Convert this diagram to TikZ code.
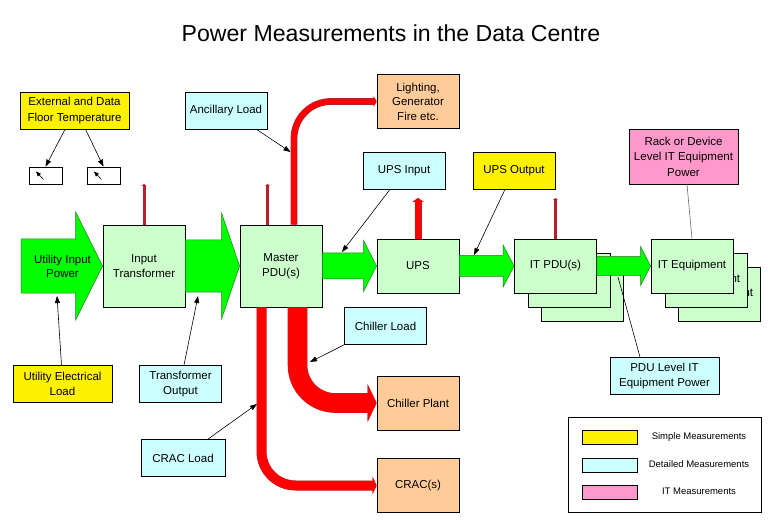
\documentclass[tikz,border=0pt]{standalone}
\usepackage{fontspec}
\setmainfont{Liberation Sans}
\usetikzlibrary{arrows.meta,calc}

\definecolor{stagegreen}{HTML}{CCFFCC}
\definecolor{flowgreen}{HTML}{00FF00}
\definecolor{flowedge}{HTML}{1F7F1F}
\definecolor{detailblue}{HTML}{CCFFFF}
\definecolor{plantorange}{HTML}{FFCC99}
\definecolor{itpink}{HTML}{FF99CC}
\definecolor{probered}{HTML}{B5202E}

\tikzset{
  basebox/.style={draw,line width=0.8pt,align=center,inner sep=0pt,font=\fontsize{11.5}{15.5}\selectfont},
  stagebox/.style={basebox,fill=stagegreen,minimum width=82pt,minimum height=54pt},
  tallbox/.style={stagebox,minimum height=82pt,font=\fontsize{11.5}{14.5}\selectfont},
  plantbox/.style={basebox,fill=plantorange,minimum width=82pt,minimum height=54pt,font=\fontsize{11.5}{14.5}\selectfont},
  simplebox/.style={basebox,fill=yellow,minimum width=82pt,minimum height=37pt},
  detailbox/.style={basebox,fill=detailblue,minimum width=82pt,minimum height=37pt},
  itbox/.style={basebox,fill=itpink,minimum width=109pt,minimum height=55pt},
  gauge/.style={basebox,fill=white,minimum width=33pt,minimum height=17pt},
  swatch/.style={basebox,minimum width=55pt,minimum height=14pt},
  keytext/.style={font=\fontsize{9.5}{11}\selectfont,inner sep=0pt},
  callout/.style={line width=0.6pt,-{Triangle[length=7pt,width=5pt]}},
  needle/.style={line width=0.6pt,-{Triangle[length=5pt,width=4pt]}},
  plainline/.style={line width=0.6pt},
  redpipe/.style={draw=red,rounded corners=#1},
  edged/.style={preaction={draw=probered,line width=#1}},
  probe/.style={draw=probered,line width=3pt,-{Triangle[length=2pt,width=5pt]}}
}

% straight block arrow: from, to, half body, half head, head length
\newcommand{\greenflow}[5]{
  \draw[fill=flowgreen,draw=flowedge,line width=0.5pt]
    ($(#1)+(0,-#3)$) -- ($(#2)+(-#5,-#3)$) -- ($(#2)+(-#5,-#4)$) -- (#2)
    -- ($(#2)+(-#5,#4)$) -- ($(#2)+(-#5,#3)$) -- ($(#1)+(0,#3)$) -- cycle;
}

\begin{document}
\begin{tikzpicture}[x=1pt,y=-1pt]
  \useasboundingbox (0,0) rectangle (768,521);

  \node[inner sep=0pt,font=\fontsize{23.1}{28}\selectfont] (title) at (391,33) {Power Measurements in the Data Centre};

  % main chain
  \coordinate (utiltail) at (21,266);
  \node[tallbox] (xfmr) at (144,266) {Input\\Transformer};
  \node[tallbox] (master) at (281,266) {Master\\PDU(s)};
  \node[stagebox] (ups) at (418,266) {UPS};
  \node[stagebox] (pdu3) at (582.5,294) {};
  \node[stagebox] (pdu2) at (569,280) {};
  \node[stagebox] (pdu) at (555.5,266) {IT PDU(s)};
  \node[stagebox] (equip3) at (719,294) {IT Equipment};
  \node[stagebox] (equip2) at (706,280) {IT Equipment};
  \node[stagebox] (equip) at (692,266) {IT Equipment};

  \greenflow{utiltail}{xfmr.west}{27}{54}{27}
  \greenflow{xfmr.east}{master.west}{26}{53}{18}
  \greenflow{master.east}{ups.west}{13}{25.5}{13}
  \greenflow{ups.east}{pdu.west}{10.5}{21}{11}
  \greenflow{pdu.east}{equip.west}{9.5}{19.5}{10}
  \node[inner sep=0pt,align=center,font=\fontsize{11.5}{14}\selectfont] (utilinput) at (62.5,266) {Utility Input\\Power};

  % loads
  \node[plantbox] (lighting) at (418,101.5) {Lighting,\\Generator\\Fire etc.};
  \node[plantbox] (chiller) at (418,403) {Chiller Plant};
  \node[plantbox] (crac) at (418,485.5) {CRAC(s)};

  \draw[redpipe=37pt,edged=6.8pt,line width=5pt,-{Triangle[length=3pt,width=10pt]}] ([xshift=13]master.north) |- (lighting.west);
  \draw[redpipe=38pt,edged=19.6pt,line width=19pt,-{Triangle[length=9pt,width=37pt]}] ([xshift=16.5]master.south) |- (chiller.west);
  \draw[redpipe=34pt,edged=10pt,line width=9.2pt,-{Triangle[length=4pt,width=17pt]}] ([xshift=-19.5]master.south) |- (crac.west);

  % probes
  \coordinate (xfmrtop) at (144,184);
  \coordinate (mastertop) at (267.5,184);
  \coordinate (upstop) at (418,198);
  \coordinate (pdutop) at (555.5,198);
  \draw[probe] (xfmr.north) -- (xfmrtop);
  \draw[probe] ([xshift=-13.5]master.north) -- (mastertop);
  \draw[draw=red,edged=7pt,line width=6pt,-{Triangle[length=4pt,width=11pt]}] (ups.north) -- (upstop);
  \draw[probe] (pdu.north) -- (pdutop);

  % measurement boxes
  \node[simplebox,minimum width=109pt] (temp) at (74.5,110.5) {External and Data\\Floor Temperature};
  \node[gauge] (gauge1) at (45.5,175.5) {};
  \node[gauge] (gauge2) at (103.5,175.5) {};
  \node[detailbox] (ancillary) at (226,110.5) {Ancillary Load};
  \node[detailbox] (upsin) at (404,170.5) {UPS Input};
  \node[simplebox] (upsout) at (514,170.5) {UPS Output};
  \node[itbox] (rack) at (683.5,156.5) {Rack or Device\\Level IT Equipment\\Power};
  \node[simplebox,minimum width=99pt] (utilload) at (62.5,384) {Utility Electrical\\Load};
  \node[detailbox] (xfmrout) at (180.5,384) {Transformer\\Output};
  \node[detailbox,minimum width=84pt] (cracload) at (183,458) {CRAC Load};
  \node[detailbox] (chillload) at (385.5,326) {Chiller Load};
  \node[detailbox,minimum width=109pt] (pdulevel) at (664.5,376) {PDU Level IT\\Equipment Power};

  % free ends of the callouts
  \coordinate (g1tail) at ($(gauge1.center)+(-2,4)$);
  \coordinate (g1tip) at ($(gauge1.center)+(-9.5,-4)$);
  \coordinate (g2tail) at ($(gauge2.center)+(-2,4)$);
  \coordinate (g2tip) at ($(gauge2.center)+(-9.5,-4)$);
  \coordinate (ancillarytip) at (290.5,152);
  \coordinate (upsintip) at (342,252);
  \coordinate (upsouttip) at (474,255);
  \coordinate (pduleveltip) at (618,277);
  \coordinate (utilloadtip) at (57,296);
  \coordinate (xfmrouttip) at (198,296);
  \coordinate (cracloadtip) at (257,404);
  \coordinate (chillloadtip) at (310,362);

  \draw[needle] (g1tail) -- (g1tip);
  \draw[needle] (g2tail) -- (g2tip);
  \draw[callout] ([xshift=-9.5]temp.south) -- (gauge1.north);
  \draw[callout] ([xshift=11]temp.south) -- (gauge2.north);
  \draw[callout] ([xshift=30.5]ancillary.south) -- (ancillarytip);
  \draw[callout] ([xshift=-14]upsin.south) -- (upsintip);
  \draw[callout] ([xshift=-9]upsout.south) -- (upsouttip);
  \draw[plainline,black!60] ([xshift=3.5]rack.south) -- (equip.north);
  \draw[plainline] ([xshift=-24.5]pdulevel.north) -- (pduleveltip);
  \draw[callout] ([xshift=-1]utilload.north) -- (utilloadtip);
  \draw[callout] ([xshift=3.5]xfmrout.north) -- (xfmrouttip);
  \draw[callout] ([xshift=25]cracload.north) -- (cracloadtip);
  \draw[callout] ([xshift=-41.5]chillload.south) -- (chillloadtip);

  % key
  \node[basebox,minimum width=193pt,minimum height=95pt] (key) at (664.5,464.5) {};
  \node[swatch,fill=yellow] (keysimple) at (609.5,437) {};
  \node[swatch,fill=detailblue] (keydetail) at (609.5,465) {};
  \node[swatch,fill=itpink] (keyit) at (609.5,492) {};
  \node[keytext] (keysimpletext) at (699,437) {Simple Measurements};
  \node[keytext] (keydetailtext) at (699,464.5) {Detailed Measurements};
  \node[keytext] (keyittext) at (699,491.5) {IT Measurements};
\end{tikzpicture}
\end{document}
